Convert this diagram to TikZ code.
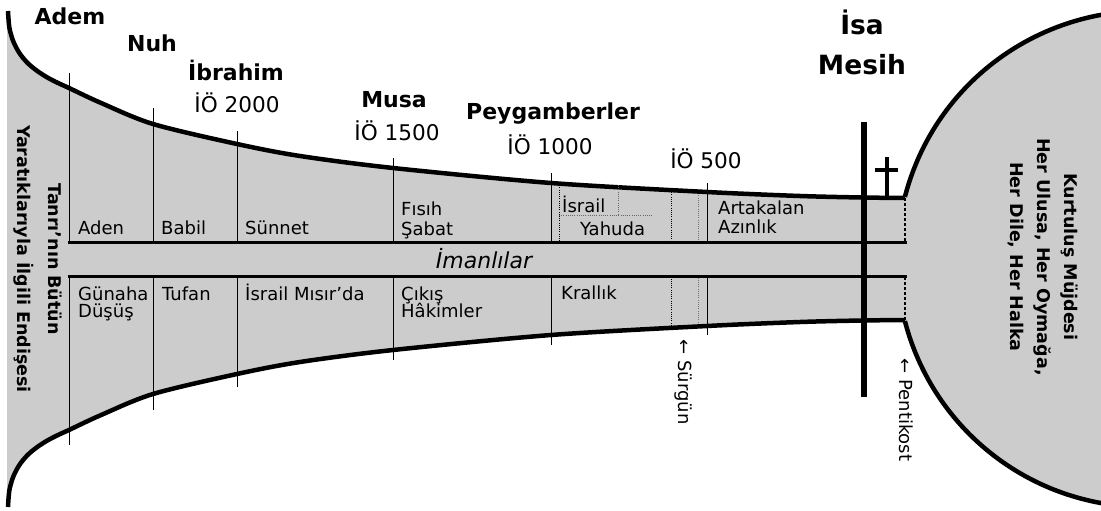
\documentclass[tikz,border=0pt]{standalone}
\usepackage{fontspec}
\setmainfont{DejaVu Sans}
\definecolor{fillgray}{RGB}{204,204,204}
\newcommand\funnelhalf{%
  \path[fill=fillgray] (7,262) -- (7,11) -- plot[smooth,tension=0.5] coordinates {(8,11) (9.4,27.9) (13.5,41.9) (19.7,53.5) (27.6,63) (37,70.8) (47.2,77.4) (58,83) (69,88) (100,102.5) (153,124) (237,144) (300,156) (393,168) (551,183) (707,192) (800,196) (862,197.5) (905,198)} -- (905,262) -- cycle;
  \draw[divider] (69,73) -- (69,242);
  \draw[divider] (153,108) -- (153,242);
  \draw[divider] (237,131) -- (237,242);
  \draw[divider] (393,158) -- (393,242);
  \draw[divider] (551,173) -- (551,242);
  \draw[divider] (707,183) -- (707,242);
  \draw[dotline] (671,190) -- (671,242);
  \draw[dotline,black!55] (698,191) -- (698,242);
  \draw[dashline] (905,198) -- (905,242);
  \draw[midline] (68,242) -- (906.5,242);
  \draw[thickline] plot[smooth,tension=0.5] coordinates {(8,11) (9.4,27.9) (13.5,41.9) (19.7,53.5) (27.6,63) (37,70.8) (47.2,77.4) (58,83) (69,88) (100,102.5) (153,124) (237,144) (300,156) (393,168) (551,183) (707,192) (800,196) (862,197.5) (905,198)};
}
\begin{document}
\begin{tikzpicture}[x=1pt,y=-1pt,
  thickline/.style={line width=4.5pt,line cap=butt},
  midline/.style={line width=3pt},
  divider/.style={line width=1pt},
  dotline/.style={line width=0.9pt,dash pattern=on 1pt off 1.2pt},
  dashline/.style={line width=1.6pt,dash pattern=on 3pt off 2pt},
  cell/.style={anchor=base west,inner sep=0pt,font=\fontsize{18}{20}\selectfont},
  ttl/.style={anchor=base,inner sep=0pt,font=\bfseries\fontsize{22}{24}\selectfont},
  era/.style={anchor=base,inner sep=0pt,font=\fontsize{21.6}{24}\selectfont},
  bigttl/.style={anchor=base,inner sep=0pt,font=\bfseries\fontsize{26.5}{30}\selectfont},
  rottext/.style={rotate=-90,inner sep=0pt,align=center},
]
\useasboundingbox (0,0) rectangle (1101,511);
\clip (0,0) rectangle (1101,511);

% circle
\fill[fillgray] (904.9,196.9) arc[start angle=165.5,end angle=-165.5,radius=248pt] -- cycle;

% funnel halves
\funnelhalf
\begin{scope}[shift={(0,518)},yscale=-1]
\funnelhalf
\end{scope}

% circle outline
\draw[thickline] (904.9,196.9) arc[start angle=165.5,end angle=-165.5,radius=248pt];

% Israil / Yahuda split
\draw[dotline] (559,183) -- (559,242);
\draw[dotline,black!60] (618,185) -- (618,215);
\draw[dotline,black!60] (559,215) -- (653,215);

% cross
\draw[line width=5.5pt] (864,122) -- (864,397);
\draw[line width=4pt] (887,157) -- (887,197);
\draw[line width=4pt] (875,170) -- (898,170);

% titles
\node[ttl] (adem) at (70,25) {Adem};
\node[ttl] (nuh) at (152,52) {Nuh};
\node[ttl] (ibrahim) at (236,81) {İbrahim};
\node[era] (d2000) at (237,113) {İÖ 2000};
\node[ttl] (musa) at (394,107) {Musa};
\node[era] (d1500) at (397,140) {İÖ 1500};
\node[ttl] (peyg) at (553,119) {Peygamberler};
\node[era] (d1000) at (550,154) {İÖ 1000};
\node[era] (d500) at (706,168) {İÖ 500};
\node[bigttl] (isa) at (862,35) {İsa};
\node[bigttl] (mesih) at (862,75) {Mesih};

% upper band
\node[cell] (aden) at (78,234) {Aden};
\node[cell] (babil) at (161,234) {Babil};
\node[cell] (sunnet) at (245,234) {Sünnet};
\node[cell] (fisih) at (401,215) {Fısıh};
\node[cell] (sabat) at (401,235) {Şabat};
\node[cell] (israil) at (562,212) {İsrail};
\node[cell] (yahuda) at (580,235) {Yahuda};
\node[cell] (artakalan) at (718,214) {Artakalan};
\node[cell] (azinlik) at (718,233) {Azınlık};

% middle band
\node[anchor=base,inner sep=0pt,font=\itshape\fontsize{22}{24}\selectfont] (imanlilar) at (484,268) {İmanlılar};

% lower band
\node[cell] (gunaha) at (78,300) {Günaha};
\node[cell] (dusus) at (78,317) {Düşüş};
\node[cell] (tufan) at (162,300) {Tufan};
\node[cell] (misir) at (245,300) {İsrail Mısır’da};
\node[cell] (cikis) at (401,300) {Çıkış};
\node[cell] (hakimler) at (401,317) {Hâkimler};
\node[cell] (krallik) at (561,299) {Krallık};

% rotated texts
\node[rottext,font=\bfseries\fontsize{17.5}{31}\selectfont] (concern) at (38,259) {Tanrı’nın Bütün\\Yaratıklarıyla İlgili Endişesi};
\node[rottext,font=\bfseries\fontsize{17.5}{27}\selectfont] (gospel) at (1043,257) {Kurtuluş Müjdesi\\Her Ulusa, Her Oymağa,\\Her Dile, Her Halka};
\node[rottext,font=\fontsize{18}{20}\selectfont] (surgun) at (683,382) {← Sürgün};
\node[rottext,font=\fontsize{18}{20}\selectfont] (pentikost) at (906,410) {← Pentikost};
\end{tikzpicture}
\end{document}
